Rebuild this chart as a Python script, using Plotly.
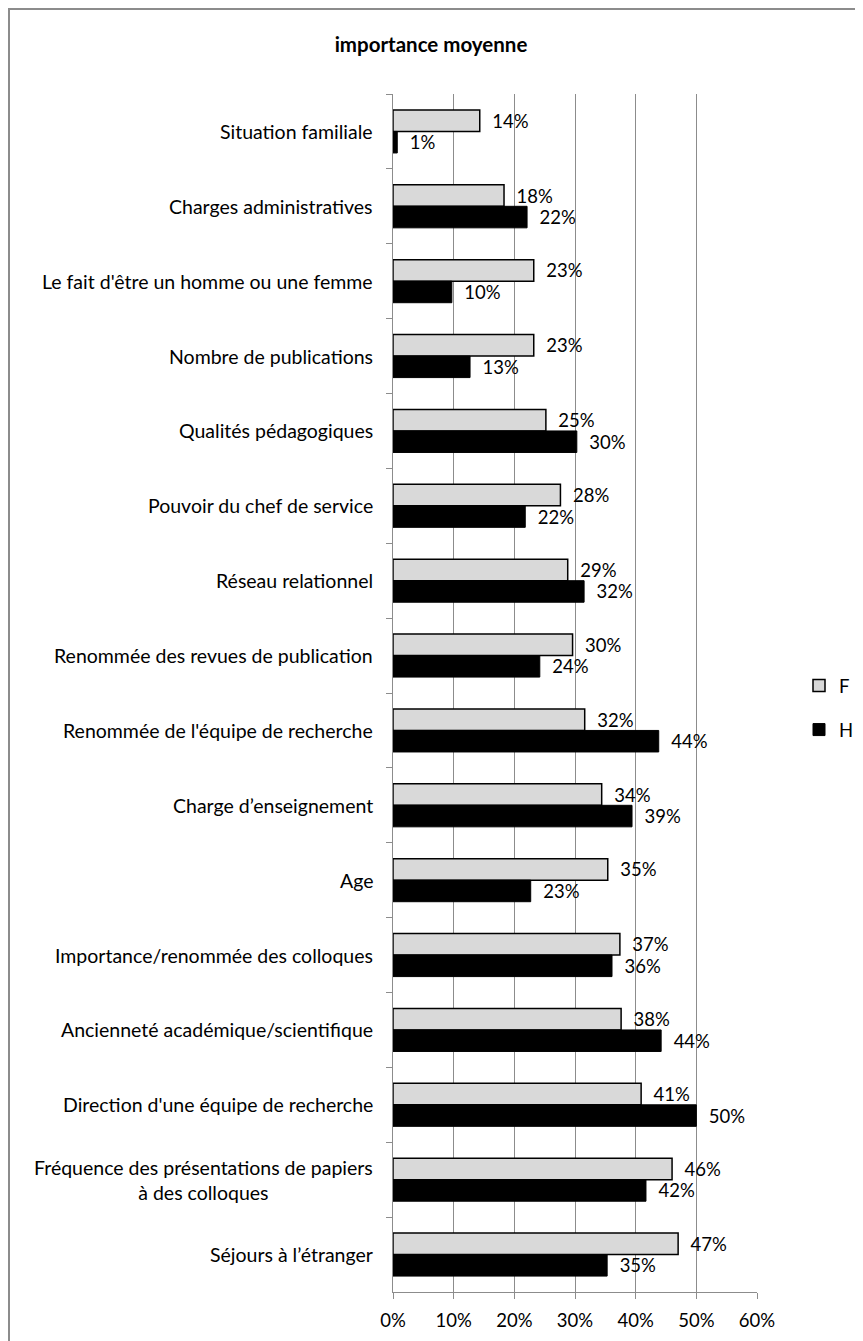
import plotly.graph_objects as go

categories = [
    "Situation familiale",
    "Charges administratives",
    "Le fait d'être un homme ou une femme",
    "Nombre de publications",
    "Qualités pédagogiques",
    "Pouvoir du chef de service",
    "Réseau relationnel",
    "Renommée des revues de publication",
    "Renommée de l'équipe de recherche",
    "Charge d’enseignement",
    "Age",
    "Importance/renommée des colloques",
    "Ancienneté académique/scientifique",
    "Direction d'une équipe de recherche",
    "Fréquence des présentations de papiers<br>à des colloques",
    "Séjours à l’étranger",
]
f_values = [14.3, 18.3, 23.2, 23.2, 25.2, 27.6, 28.8, 29.6, 31.6, 34.4, 35.4, 37.4, 37.6, 40.9, 46.0, 47.0]
h_values = [0.7, 22.1, 9.7, 12.7, 30.3, 21.8, 31.5, 24.2, 43.8, 39.4, 22.7, 36.1, 44.2, 50.0, 41.7, 35.3]
x_ticks = [0, 10, 20, 30, 40, 50, 60]
x_tick_labels = ["0%", "10%", "20%", "30%", "40%", "50%", "60%"]
title = "importance moyenne"

FONT = "Lato"
pad = "\u00a0\u00a0"

# figure is offset by the 8px page margin
W, H = 855, 1333
L, T = 385, 86
PW, PH = 364, 1198

fig = go.Figure()
fig.add_trace(go.Bar(
    y=categories, x=f_values, orientation="h", name="F",
    marker=dict(color="#d9d9d9", line=dict(color="black", width=1.5)),
    text=[pad + f"{round(v)}%" for v in f_values], textposition="outside",
    textfont=dict(family=FONT, size=18.5, color="black"), constraintext="none",
    cliponaxis=False, legendgroup="F",
))
fig.add_trace(go.Bar(
    y=categories, x=h_values, orientation="h", name="H",
    marker=dict(color="black", line=dict(color="black", width=1)),
    text=[pad + f"{round(v)}%" for v in h_values], textposition="outside",
    textfont=dict(family=FONT, size=18.5, color="black"), constraintext="none",
    cliponaxis=False, legendgroup="H",
))

for c in categories:
    fig.add_annotation(
        x=0, xref="paper", y=c, yref="y", text=c, showarrow=False,
        xanchor="right", align="center", xshift=-18,
        font=dict(family=FONT, size=19.5, color="black"),
    )

fig.add_shape(type="rect", xref="paper", yref="paper",
              x0=(1 - L) / PW, x1=1.6, y0=-0.2, y1=1 + (T - 1) / PH,
              line=dict(color="#8c8c8c", width=2), fillcolor="rgba(0,0,0,0)", layer="below")

fig.update_layout(
    width=W, height=H,
    margin=dict(l=L, r=W - L - PW, t=T, b=H - T - PH, autoexpand=False),
    paper_bgcolor="white", plot_bgcolor="white",
    barmode="group", bargap=0.425, bargroupgap=0,
    title=dict(text=f"<b>{title}</b>", x=(431 - 8) / W, xref="container", xanchor="center",
               y=1 - 37 / H, yref="container", yanchor="middle",
               font=dict(family=FONT, size=20.5, color="black")),
    showlegend=True,
    legend=dict(x=(799 - 8 - L) / PW, xanchor="left", y=1 - (708 - 8 - T) / PH, yanchor="middle",
                font=dict(family=FONT, size=18.5, color="black"),
                tracegroupgap=17, itemwidth=30, bgcolor="rgba(0,0,0,0)"),
    font=dict(family=FONT, size=18.5, color="black"),
)
fig.update_xaxes(
    range=[0, 60], tickvals=x_ticks, ticktext=x_tick_labels,
    showgrid=True, gridcolor="#8c8c8c", gridwidth=1,
    showline=True, linecolor="#8c8c8c", linewidth=1,
    ticks="outside", ticklen=6, tickcolor="#8c8c8c", ticklabelstandoff=6,
    zeroline=False, tickfont=dict(family=FONT, size=18.5, color="black"),
)
fig.update_yaxes(
    autorange="reversed", showticklabels=False,
    showline=True, linecolor="#8c8c8c", linewidth=1,
    ticks="outside", ticklen=6, tickcolor="#8c8c8c", tickson="boundaries",
    showgrid=False, zeroline=False,
)

fig.write_html("out.html")
